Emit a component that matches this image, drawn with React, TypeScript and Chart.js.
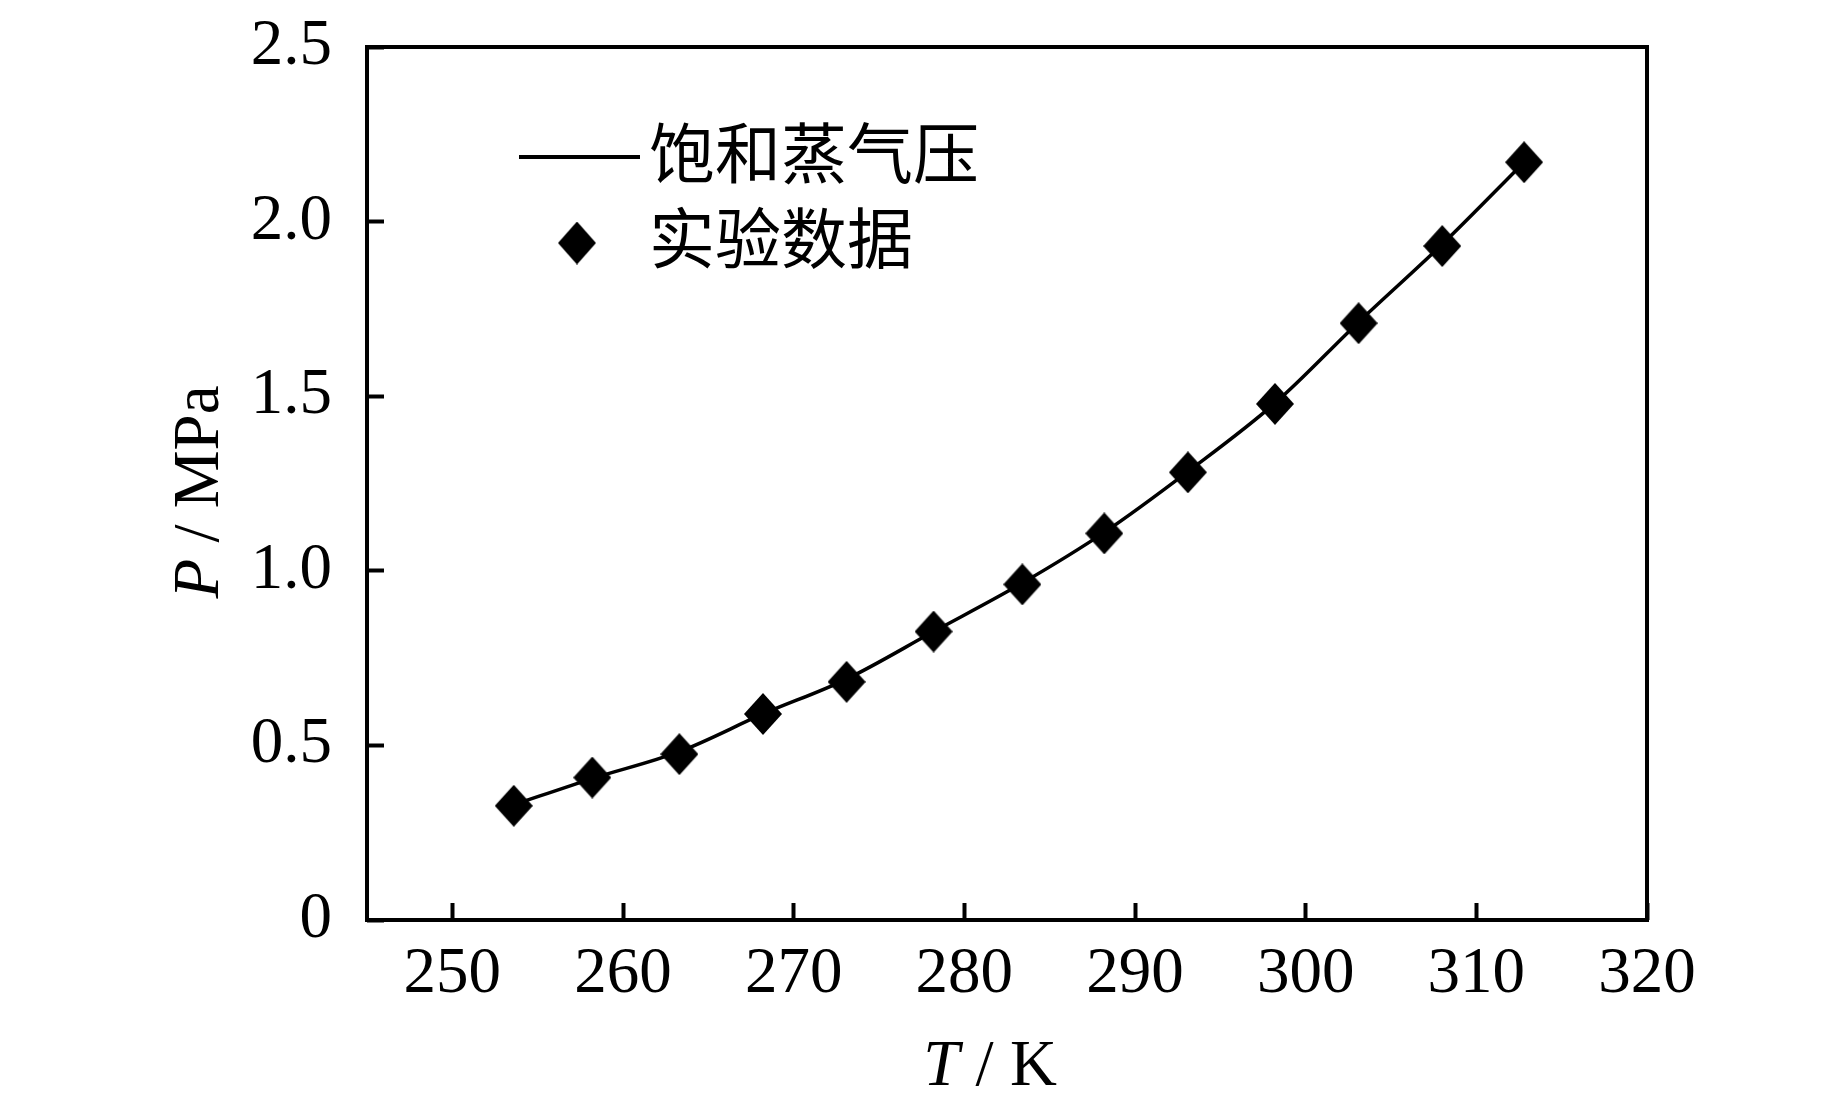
import React, { useEffect, useRef } from 'react';
import { Chart, registerables } from 'chart.js';

Chart.register(...registerables);

const T_K = [253.6, 258.2, 263.3, 268.2, 273.1, 278.2, 283.4, 288.2, 293.1, 298.2, 303.1, 308.0, 312.8];
const P_MPA = [0.327, 0.408, 0.475, 0.59, 0.682, 0.826, 0.961, 1.107, 1.282, 1.478, 1.709, 1.93, 2.17];

// saturated vapour pressure curve
const SAT_T = [253.6, 258.2, 263.3, 268.2, 273.1, 278.2, 283.4, 288.2, 293.1, 298.2, 303.1, 308.0, 312.8];
const SAT_P = [0.33, 0.405, 0.482, 0.59, 0.69, 0.826, 0.965, 1.11, 1.284, 1.48, 1.712, 1.935, 2.17];

const X_TICKS = [250, 260, 270, 280, 290, 300, 310, 320];
const Y_TICKS = [0, 0.5, 1.0, 1.5, 2.0, 2.5];

const SERIF = '"Liberation Serif", "Times New Roman", serif';
const CJK = '"Noto Sans CJK SC", sans-serif';

function makeDiamond(w: number, h: number): HTMLCanvasElement {
  const c = document.createElement('canvas');
  c.width = w;
  c.height = h;
  const g = c.getContext('2d')!;
  g.fillStyle = '#000';
  g.beginPath();
  g.moveTo(w / 2, 0);
  g.lineTo(w, h / 2);
  g.lineTo(w / 2, h);
  g.lineTo(0, h / 2);
  g.closePath();
  g.fill();
  return c;
}

// frame, axis titles with italic symbols, legend inside the plot
const decorPlugin = {
  id: 'decor',
  afterDraw(chart: Chart) {
    const { ctx, chartArea } = chart;
    ctx.save();
    ctx.strokeStyle = '#000';
    ctx.lineWidth = 4;
    ctx.strokeRect(chartArea.left, chartArea.top, chartArea.right - chartArea.left, chartArea.bottom - chartArea.top);

    const drawMixed = (sym: string, rest: string, cx: number, cy: number) => {
      ctx.font = `italic 65px ${SERIF}`;
      const w1 = ctx.measureText(sym).width;
      ctx.font = `65px ${SERIF}`;
      const w2 = ctx.measureText(rest).width;
      const x0 = cx - (w1 + w2) / 2;
      ctx.fillStyle = '#000';
      ctx.textAlign = 'left';
      ctx.textBaseline = 'alphabetic';
      ctx.font = `italic 65px ${SERIF}`;
      ctx.fillText(sym, x0, cy);
      ctx.font = `65px ${SERIF}`;
      ctx.fillText(rest, x0 + w1, cy);
    };

    drawMixed('T', ' / K', 990, 1085);
    ctx.save();
    ctx.translate(218, 492);
    ctx.rotate(-Math.PI / 2);
    drawMixed('P', ' / MPa', 0, 0);
    ctx.restore();

    // legend
    const ds = chart.data.datasets;
    const lineDs = ds.find((d: any) => d.showLine);
    const ptDs = ds.find((d: any) => !d.showLine);
    ctx.lineWidth = 4;
    ctx.beginPath();
    ctx.moveTo(519, 157);
    ctx.lineTo(640, 157);
    ctx.stroke();
    ctx.font = `66px ${CJK}`;
    ctx.textBaseline = 'middle';
    ctx.textAlign = 'left';
    ctx.fillText(String(lineDs?.label ?? ''), 649, 153);
    const dm = makeDiamond(38, 43);
    ctx.drawImage(dm, 577 - 19, 243 - 21.5);
    ctx.fillText(String(ptDs?.label ?? ''), 649, 238);
    ctx.restore();
  },
};

const App: React.FC = () => {
  const canvasRef = useRef<HTMLCanvasElement>(null);
  const chartRef = useRef<Chart | null>(null);

  useEffect(() => {
    document.body.style.margin = '0';
    if (!canvasRef.current) return;
    if (chartRef.current) chartRef.current.destroy();
    const ctx = canvasRef.current.getContext('2d');
    if (!ctx) return;

    const diamond = makeDiamond(38, 42);
    const tickFont = { family: SERIF, size: 65 };

    chartRef.current = new Chart(ctx, {
      type: 'scatter',
      data: {
        datasets: [
          {
            label: '实验数据',
            data: T_K.map((t, i) => ({ x: t, y: P_MPA[i] })),
            pointStyle: diamond as any,
            pointRadius: 19,
            showLine: false,
            order: 0,
          },
          {
            label: '饱和蒸气压',
            data: SAT_T.map((t, i) => ({ x: t, y: SAT_P[i] })),
            showLine: true,
            borderColor: '#000',
            borderWidth: 3.5,
            pointRadius: 0,
            cubicInterpolationMode: 'monotone',
            order: 1,
          },
        ],
      },
      options: {
        animation: false,
        responsive: true,
        maintainAspectRatio: false,
        layout: { padding: { left: 0, top: 47, right: 196, bottom: 0 } },
        plugins: { legend: { display: false }, tooltip: { enabled: false } },
        scales: {
          x: {
            type: 'linear',
            min: 245,
            max: 320,
            afterBuildTicks: (s: any) => { s.ticks = X_TICKS.map(v => ({ value: v })); },
            afterFit: (s: any) => {
              s.height = 190;
              s.paddingLeft = 0;
              s.paddingRight = 0;
            },
            border: { display: false },
            grid: { drawOnChartArea: false, tickLength: -17, tickWidth: 4, tickColor: '#000' },
            ticks: { color: '#000', font: tickFont, padding: 33, maxRotation: 0, autoSkip: false },
          },
          y: {
            type: 'linear',
            min: 0,
            max: 2.5,
            afterBuildTicks: (s: any) => { s.ticks = Y_TICKS.map(v => ({ value: v })); },
            afterFit: (s: any) => {
              s.width = 367;
              s.paddingTop = 0;
              s.paddingBottom = 0;
            },
            border: { display: false },
            grid: { drawOnChartArea: false, tickLength: -17, tickWidth: 4, tickColor: '#000' },
            ticks: {
              color: '#000',
              font: tickFont,
              padding: 52,
              autoSkip: false,
              callback: (v: any) => (Number(v) === 0 ? '0' : Number(v).toFixed(1)),
            },
          },
        },
      },
      plugins: [decorPlugin],
    });

    return () => {
      chartRef.current?.destroy();
      chartRef.current = null;
    };
  }, []);

  return (
    <div style={{ width: 1843, height: 1110, background: '#fff', overflow: 'hidden' }}>
      <canvas ref={canvasRef} />
    </div>
  );
};

export default App;
